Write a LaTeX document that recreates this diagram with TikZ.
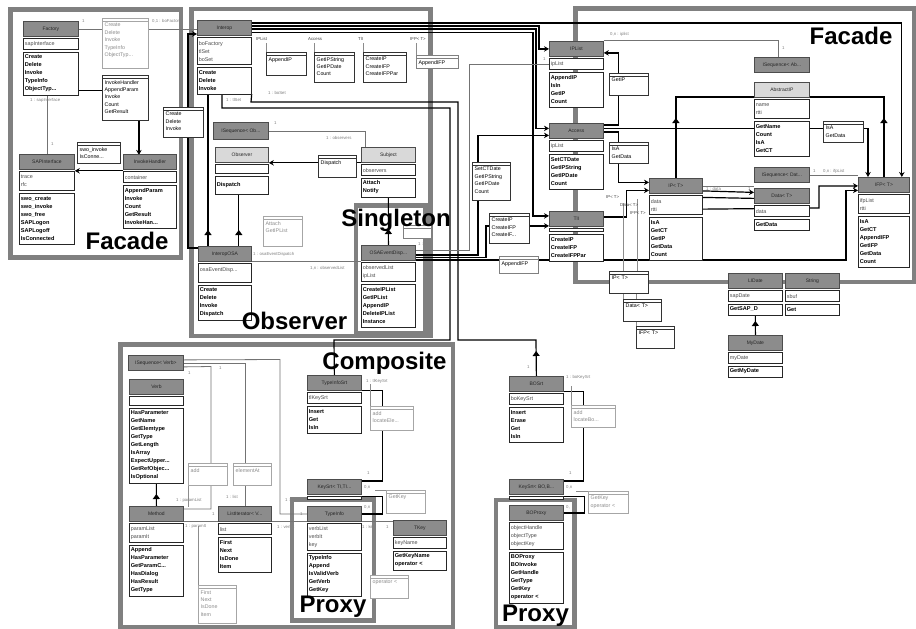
\documentclass[tikz,border=0pt]{standalone}
\usepackage{fontspec}
\setmainfont{Liberation Sans}
\usetikzlibrary{arrows.meta,decorations.markings}
\pgfdeclarelayer{bg}
\pgfdeclarelayer{lines}
\pgfsetlayers{bg,lines,main}

\tikzset{
  hdrD/.style={rectangle, draw=black!70, line width=.8pt, fill=black!45, text=black!85,
    font=\fontsize{5}{6}\selectfont, anchor=north west, minimum height=15pt, inner sep=0pt},
  hdrL/.style={hdrD, fill=black!15},
  hdr/.style={hdrD},
  attrc/.style={rectangle, draw=black!85, line width=.7pt, fill=white, anchor=north west,
    align=left, inner xsep=1.5pt, inner ysep=0pt, font=\fontsize{5.4}{8}\selectfont, text=black!70},
  methc/.style={attrc, font=\fontsize{5.6}{8}\selectfont\bfseries, text=black},
  notebox/.style={rectangle, anchor=north west, inner sep=0pt, fill=white, line width=.9pt},
  notek/.style={draw=black!80, text=black},
  notem/.style={draw=black!50, text=black},
  noteg/.style={draw=black!35, text=black!45},
  notetxt/.style={anchor=north west, inner sep=0pt, align=left, font=\fontsize{5.3}{7.4}\selectfont},
  patfr/.style={draw=black!50, line width=4.5pt},
  blk/.style={draw=black, line width=1.2pt},
  gl/.style={draw=black!55, line width=.8pt},
  hang/.style={draw=black!45, line width=.6pt},
  arr/.style={-{Stealth[length=5pt,width=5.5pt]}},
  inh/.style={draw=black, line width=1.2pt, postaction={decorate},
    decoration={markings, mark=at position #1 with {\arrow{Triangle[length=5pt,width=7pt]}}}},
  lbl/.style={anchor=west, inner sep=0pt, font=\fontsize{4.3}{5}\selectfont, text=black!50},
  lbld/.style={lbl, text=black!75},
  ttl/.style={inner sep=0pt, font=\fontsize{24}{24}\selectfont\bfseries, text=black}
}

% class: name, x, y, width, title, attribute height, attributes, method height, methods
\newcommand\umlcls[9]{%
  \pgfmathsetmacro\umltw{#4-3}%
  \node[hdr, minimum width=#4pt] (#1) at (#2,#3) {#5};
  \node[attrc, minimum width=#4pt, text width=\umltw pt, minimum height=#6pt] (#1-a) at ([yshift=-1.5pt]#1.south west) {#7};
  \node[methc, minimum width=#4pt, text width=\umltw pt, minimum height=#8pt] (#1-m) at ([yshift=-1.5pt]#1-a.south west) {#9};
}
% interface note: [style] name, x, y, width, height, text
\newcommand\unote[7][notek]{%
  \pgfmathsetmacro\umltw{#5-5}%
  \node[notebox, #1, minimum width=#5pt, minimum height=#6pt] (#2) at (#3,#4) {};
  \draw[#1, line width=.5pt] ([yshift=-3pt]#2.north west) -- ([yshift=-3pt]#2.north east);
  \node[notetxt, #1, draw=none, text width=\umltw pt] (#2-t) at (#3+2.5,#4+5) {#7};
}

\begin{document}
\begin{tikzpicture}[x=1pt,y=-1pt]
\useasboundingbox (0,0) rectangle (916,629);

\begin{pgfonlayer}{bg}
  \fill[white] (0,0) rectangle (916,629);
  \node[lbl] (lvl) at (285,500) {1 : verbList};
  \node[lbl] (lvi) at (277,527) {1 : verbIt};
  % pattern frames
  \draw[patfr] (10.5,9.5) rectangle (181,257.5);
  \draw[patfr] (191.5,9) rectangle (430.5,336);
  \draw[patfr] (356,205.5) rectangle (425.5,333);
  \draw[patfr] (575.5,8.5) rectangle (914,282);
  \draw[patfr] (120.5,344.5) rectangle (453,627);
  \draw[patfr] (292,499.5) rectangle (374,620.5);
  \draw[patfr] (496,500) rectangle (574.5,627);
\end{pgfonlayer}

% ---------- classes ----------
\umlcls{fac}{23}{21}{55}{Factory}{11}{sapInterface}{43}{Create\\Delete\\Invoke\\TypeInfo\\ObjectTyp...}
\umlcls{sap}{19}{154}{55}{SAPInterface}{19}{trace\\rfc}{51}{swo\_create\\swo\_invoke\\swo\_free\\SAPLogon\\SAPLogoff\\IsConnected}
\umlcls{ih}{123}{154}{53}{InvokeHandler}{11}{container}{43}{AppendParam\\Invoke\\Count\\GetResult\\InvokeHan...}
\umlcls{iop}{197}{20}{54}{Interop}{27}{boFactory\\tlSet\\boSet}{27}{Create\\Delete\\Invoke}
\umlcls{iosa}{198}{246}{53}{InteropOSA}{19}{osaEventDisp...\\\mbox{}}{35}{Create\\Delete\\Invoke\\Dispatch}
\tikzset{hdr/.style=hdrL}
\umlcls{obs}{215}{147}{53}{Observer}{9}{}{18}{Dispatch}
\umlcls{subj}{361}{147}{54}{Subject}{11}{observers}{19}{Attach\\Notify}
\umlcls{abs}{754}{82}{55}{AbstractIP}{19}{name\\rtti}{35}{GetName\\Count\\IsA\\GetCT}
\tikzset{hdr/.style=hdrD}
\umlcls{osa}{361}{245}{54}{OSAEventDisp...}{19}{observedList\\ipList}{43}{CreateIPList\\GetIPList\\AppendIP\\DeleteIPList\\Instance}
\umlcls{ipl}{549}{41}{54}{IPList}{11}{ipList}{35}{AppendIP\\IsIn\\GetIP\\Count}
\umlcls{acc}{549}{123}{54}{Access}{11}{ipList}{35}{SetCTDate\\GetIPString\\GetIPDate\\Count}
\umlcls{tli}{549}{211}{54}{TlI}{3}{}{27}{CreateIP\\CreateIFP\\CreateIFPPar}
\umlcls{ipt}{649}{178}{53}{IP< T>}{19}{data\\rtti}{43}{IsA\\GetCT\\GetIP\\GetData\\Count}
\umlcls{dat}{754}{188}{55}{Data< T>}{11}{data}{11}{GetData}
\umlcls{ifp}{858}{177}{51}{IFP< T>}{19}{ifpList\\rtti}{51}{IsA\\GetCT\\AppendIFP\\GetIFP\\GetData\\Count}
\umlcls{lid}{728}{273}{54}{LIDate}{11}{sapDate}{11}{GetSAP\_D}
\umlcls{str}{785}{273}{54}{String}{11}{sbuf}{11}{Get}
\umlcls{myd}{728}{335}{54}{MyDate}{11}{myDate}{11}{GetMyDate}
\umlcls{verb}{129}{379}{54}{Verb}{9}{}{75}{HasParameter\\GetName\\GetElemtype\\GetType\\GetLength\\IsArray\\ExpectUpper...\\GetRefObjec...\\IsOptional}
\umlcls{meth}{129}{506}{54}{Method}{19}{paramList\\paramIt}{51}{Append\\HasParameter\\GetParamC...\\HasDialog\\HasResult\\GetType}
\umlcls{lit}{218}{506}{53}{ListIterator< V...}{11}{list}{35}{First\\Next\\IsDone\\Item}
\umlcls{tis}{307}{375}{54}{TypeInfoSrt}{11}{tlKeySrt}{27}{Insert\\Get\\IsIn}
\umlcls{ti}{307}{506}{54}{TypeInfo}{27}{verbList\\verbIt\\key}{43}{TypeInfo\\Append\\IsValidVerb\\GetVerb\\GetKey}
\umlcls{tkey}{393}{520}{53}{TKey}{11}{keyName}{19}{GetKeyName\\operator <}
\umlcls{bos}{509}{376}{54}{BOSrt}{11}{boKeySrt}{35}{Insert\\Erase\\Get\\IsIn}
\umlcls{bop}{509}{505}{54}{BOProxy}{27}{objectHandle\\objectType\\objectKey}{51}{BOProxy\\BOInvoke\\GetHandle\\GetType\\GetKey\\operator <}

% header-only classes
\node[hdr, minimum width=55pt, minimum height=17pt] (isob) at (213,122) {ISequence< Ob...};
\node[hdr, minimum width=55pt] (isab) at (754,57) {ISequence< Ab...};
\node[hdr, minimum width=55pt] (isdat) at (754,167) {ISequence< Dat...};
\node[hdr, minimum width=55pt] (isv) at (128,355) {ISequence< Verb>};
\node[hdr, minimum width=54pt] (kst) at (307,479) {KeySrt< TI,TI...};
\node[attrc, minimum width=54pt, minimum height=3pt] (kst-a) at ([yshift=-1.5pt]kst.south west) {};
\node[hdr, minimum width=54pt] (ksb) at (509,479) {KeySrt< BO,B...};
\node[attrc, minimum width=54pt, minimum height=3pt] (ksb-a) at ([yshift=-1.5pt]ksb.south west) {};

% ---------- interface notes ----------
\unote[noteg]{n1}{102}{18}{46}{50}{Create\\Delete\\Invoke\\TypeInfo\\ObjectTyp...}
\unote{n2}{102}{75}{46}{45}{InvokeHandler\\AppendParam\\Invoke\\Count\\GetResult}
\unote{n3}{77}{142}{43}{21}{swo\_invoke\\IsConne...}
\unote{n4}{163}{107}{40}{30}{Create\\Delete\\Invoke}
\unote{n5}{266}{52}{40}{23}{AppendIP}
\unote{n6}{314}{52}{40}{30}{GetIPString\\GetIPDate\\Count}
\unote{n7}{363}{52}{43}{30}{CreateIP\\CreateIFP\\CreateIFPPar}
\unote[notem]{n8}{416}{55}{42}{13}{AppendIFP}
\unote{n9}{318}{155}{38}{22}{Dispatch}
\unote[noteg]{n10}{263}{216}{39}{30}{Attach\\GetIPList}
\unote[notem]{n11}{403}{225}{28}{13}{}
\unote{n12}{609}{73}{39}{22}{GetIP}
\unote{n13}{609}{142}{39}{21}{IsA\\GetData}
\unote{n14}{472}{162}{38}{38}{SetCTDate\\GetIPString\\GetIPDate\\Count}
\unote{n15}{489}{213}{40}{30}{CreateIP\\CreateIFP\\CreateIF...}
\unote[notem]{n16}{499}{256}{39}{17}{AppendIFP}
\unote{n17}{823}{121}{40}{21}{IsA\\GetData}
\unote{n18}{609}{271}{39}{22}{IP< T>}
\unote{n19}{623}{299}{38}{22}{Data< T>}
\unote{n20}{636}{326}{38}{22}{IFP< T>}
\unote[noteg]{n21}{188}{463}{39}{22}{add}
\unote[noteg]{n22}{233}{463}{38}{22}{elementAt}
\unote[noteg]{n23}{198}{585}{38}{38}{First\\Next\\IsDone\\Item}
\unote[noteg]{n24}{370}{406}{43}{24}{add\\locateEle...}
\unote[noteg]{n25}{386}{490}{39}{23}{GetKey}
\unote[noteg]{n26}{370}{575}{38}{23}{operator <}
\unote[noteg]{n27}{571}{405}{44}{22}{add\\locateBo...}
\unote[noteg]{n28}{588}{491}{40}{22}{GetKey\\operator <}

% ---------- connectors ----------
\begin{pgfonlayer}{lines}
  % Factory / SAP interface
  \draw[gl] (fac.east) -- (fac.east -| iop.west);
  \draw[gl] (sap.north) -- (sap.north |- fac-m.south);
  \draw[blk] ([yshift=5pt]fac-m.south east) -- ++(24,0);
  \draw[blk,arr] ([xshift=-10pt]n2.south east) -- ++(0,34);
  \draw[blk,arr] ([yshift=-1pt]ih.south west) -- ([yshift=-1pt]sap.south east);
  % Interop to the right-hand classes
  \draw[blk,arr] ([yshift=-3pt]iop.north east) -| ([xshift=-8pt]ifp.north east);
  \draw[blk,arr] ([yshift=-6pt]iop.north east) -- (539,26) |- (ipl.west);
  \draw[blk,arr] ([yshift=-9pt]iop.north east) -- (536,29) |- ([yshift=2.5pt]acc.west);
  \draw[blk,arr] ([yshift=-12.5pt]iop.north east) -- (533,32.5) |- ([yshift=3pt]tli.west);
  \draw[inh=25pt] (bos.north) -- (536,340) -- (458,340) -- (458,102) -- (251,102) -- (iop-m.south east);
  \draw[blk] (tis.north) -- (334,340) -- (450,340) -- (450,108) -- (222,108) -- ([xshift=25pt]iop-m.south west);
  % Observer
  \draw[inh=16pt] ([xshift=10pt]iosa.north west) -- ++(0,-154);
  \draw[inh=16pt] ([xshift=-13pt]iosa.north east) -- ++(0,-54);
  \draw[blk,arr] ([yshift=-2pt]iosa.north west) -- ++(-10,0) |- ([yshift=-14pt]iop.north west);
  \draw[blk,arr] (subj.south west) -- (obs.south east);
  \draw[inh=16pt] (osa.north) -- (subj-m.south);
  \draw[gl] (isob.east) -| ([xshift=4pt]subj.north west);
  \draw[gl] (iosa.south east) -- (iosa.south east -| osa.west);
  % OSAEventDispatcher to the right
  \draw[gl] ([yshift=-5pt]osa.north east) -- (469,250) |- (ipl-a.west);
  \draw[blk,arr] ([yshift=-10pt]osa.north east) -- (478,255) |- ([yshift=-4.5pt]acc.west);
  \draw[blk,arr] ([yshift=-12.5pt]osa.north east) -- (486,257.5) |- ([yshift=-7pt]tli.west);
  \draw[blk,arr] ([yshift=-15pt]osa.north east) -- (846,260) |- ([yshift=-5.5pt]ifp.west);
  % right Facade
  \draw[blk,arr] ([yshift=6pt]acc.east) -- ++(15,0) |- ([yshift=-4pt]ipl.east);
  \draw[blk,arr] ([yshift=-1pt]acc.east) -- ++(15,0) |- ([yshift=3.5pt]ipt.west);
  \draw[blk,arr] ([yshift=2.5pt]acc.east) -| ([xshift=10pt]ifp.north west);
  \draw[inh=60pt] (ipt.north) |- ([yshift=-7pt]abs.west);
  \draw[inh=59pt] (ifp.north) |- ([yshift=-7pt]abs.east);
  \draw[blk,arr] ([yshift=2pt]tli.east) -- ++(23,0) |- ([yshift=-4.5pt]ipt.west);
  \draw[gl] (ipt.east) -- (ipt.east -| dat.west);
  \draw[blk,arr] ([yshift=-5pt]ipt.east) -- ([yshift=3.5pt]dat.west);
  \draw[blk] ([yshift=-11.5pt]ipt.east) -- ([yshift=-2.5pt]dat.west);
  \draw[blk,arr] ([yshift=-4pt]ipt-a.east) -- (819,208) |- ([yshift=-1pt]ifp.west);
  \draw[gl] (isdat.east) -- (isdat.east -| ifp.west);
  \draw[gl] ([yshift=1pt]ipl.north east) -| ([xshift=24pt]isab.north west);
  \draw[inh=14pt] (myd.north) -- (lid-m.south);
  % note hangers
  \draw[hang] (n5.north west) -- ++(0,-9);
  \draw[hang] (n6.north west) -- ++(0,-9);
  \draw[hang] (n7.north west) -- ++(0,-9);
  \draw[hang] (n8.north west) -- ++(0,-12);
  \draw[hang] ([xshift=-12pt]n18.north east) -- ++(0,-72);
  \draw[hang] (n19.north west) -- ++(0,-96);
  \draw[hang] (n20.north west) -- ++(0,-33);
  % Composite
  \draw[gl] (isv.east) -| (lit.north);
  \draw[gl] ([yshift=3pt]isv.east) -- (280,359.5) |- (ti.west);
  \draw[gl] ([yshift=-4pt]isv.east) -- (211,366.5) |- ([yshift=5pt]meth.east);
  \draw[gl] (meth.south east) -- (lit.south west);
  \draw[gl] (lit.south east) -- (ti.south west);
  \draw[inh=12pt] (meth.north) -- (verb-m.south);
  \draw[hang] (n23.north west) -- ++(0,-59);
  \draw[hang] (n21.south west) -- ++(0,21);
  \draw[blk] (tis.south east) -- ++(21,0) |- ([yshift=6pt]kst.east);
  \draw[hang] (n24.north west) -- ++(0,-22);
  \draw[blk] ([yshift=-2pt]kst.south east) -- ++(21,0) |- (ti.east);
  \draw[hang] (n25.north west) -- ++(-11,0);
  \draw[gl] (ti.south east) -- (ti.south east -| tkey.west);
  % BO proxy
  \draw[blk] (bos.south east) -- ++(20,0) |- ([yshift=6pt]ksb.east);
  \draw[hang] (n27.north west) -- ++(0,-19);
  \draw[blk] ([yshift=-2pt]ksb.south east) -- ++(21,0) |- (bop.east);
  \draw[hang] (n28.north west) -- ++(-12,0);
\end{pgfonlayer}

% ---------- role labels ----------
\node[lbl] (l1) at (82,21) {1};
\node[lbl] (l2) at (152,21) {0,1 : boFactory};
\node[lbl] (l3) at (30,100) {1 : sapInterface};
\node[lbl] (l4) at (51,144) {1};
\node[lbl] (l5) at (226,100) {1 : tlSet};
\node[lbl] (l6) at (268,93) {1 : boSet};
\node[lbld] (l7) at (256,39) {IPList};
\node[lbld] (l8) at (308,39) {Access};
\node[lbld] (l9) at (358,39) {TlI};
\node[lbld] (l10) at (410,39) {IFP< T>};
\node[lbl] (l11) at (274,123) {1};
\node[lbl] (l12) at (326,138) {1 : observers};
\node[lbl] (l13) at (253,254) {1 : osaEventDispatch};
\node[lbl] (l14) at (310,268) {1,n : observedList};
\node[lbl] (l15) at (418,244) {1 : iplist};
\node[lbl] (l16) at (610,34) {0,n : iplist};
\node[lbl] (l17) at (543,59) {1};
\node[lbl] (l18) at (782,48) {1};
\node[lbl] (l19) at (706,189) {1 : data};
\node[lbl] (l20) at (748,189) {1};
\node[lbl] (l21) at (813,171) {1};
\node[lbl] (l22) at (823,171) {0,n : ifpList};
\node[lbld] (l23) at (606,197) {IP< T>};
\node[lbld] (l24) at (620,205) {Data< T>};
\node[lbld] (l25) at (630,213) {IFP< T>};
\node[lbl] (l26) at (219,368) {1};
\node[lbl] (l27) at (188,373) {1};
\node[lbl] (l28) at (176,500) {1 : paramList};
\node[lbl] (l29) at (226,497) {1 : list};
\node[lbl] (l30) at (212,514) {1};
\node[lbl] (l31) at (185,526) {1 : paramIt};
\node[lbl] (l32) at (366,381) {1 : tlKeySrt};
\node[lbl] (l33) at (367,473) {1};
\node[lbl] (l34) at (364,487) {0,n};
\node[lbl] (l35) at (364,507) {0,n};
\node[lbl] (l36) at (300,514) {1};
\node[lbl] (l37) at (362,527) {1 : key};
\node[lbl] (l38) at (386,527) {1};
\node[lbl] (l39) at (527,367) {1};
\node[lbl] (l40) at (566,377) {1 : boKeySrt};
\node[lbl] (l41) at (569,473) {1};
\node[lbl] (l42) at (566,487) {0,n};
\node[lbl] (l43) at (566,507) {0,};

% ---------- pattern names ----------
\node[ttl] (tFacL) at (127,241) {Facade};
\node[ttl] (tFacR) at (851,36) {Facade};
\node[ttl] (tSing) at (396,220.5) {Singleton};
\node[ttl] (tObs) at (294.5,320.5) {Observer};
\node[ttl] (tComp) at (384.5,363) {Composite};
\node[ttl] (tPrx1) at (333,607) {Proxy};
\node[ttl] (tPrx2) at (535.5,615.5) {Proxy};
\end{tikzpicture}
\end{document}
